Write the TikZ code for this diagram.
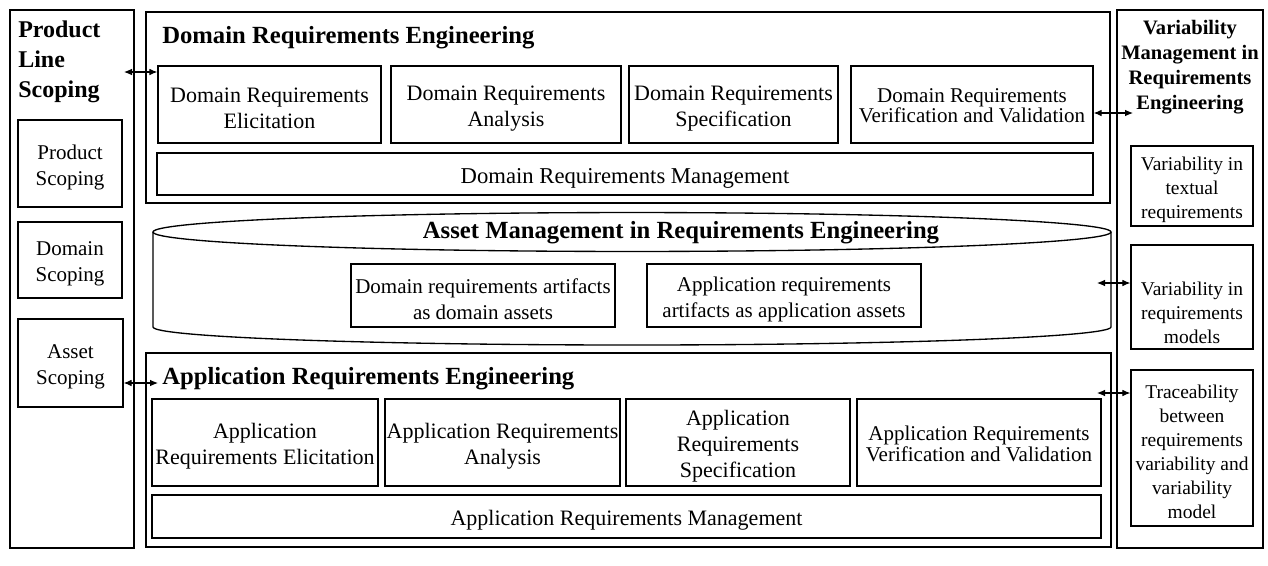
\documentclass[tikz,border=0pt]{standalone}
\usepackage{fontspec}
\setmainfont{Liberation Serif}
\usetikzlibrary{fit,arrows.meta}
\begin{document}
\begin{tikzpicture}[x=0.75pt,y=-0.75pt,
  frame/.style={draw, line width=1pt, inner sep=0pt},
  txt/.style={inner sep=0pt, align=center, yshift=-3pt, font=\fontsize{16.5}{19.5}\selectfont},
  vvtxt/.style={txt, yshift=2pt, font=\fontsize{15.75}{15.5}\selectfont},
  cyltxt/.style={txt, font=\fontsize{15.75}{19.5}\selectfont},
  sidetxt/.style={txt, font=\fontsize{15.75}{19.5}\selectfont},
  vartxt/.style={txt, font=\fontsize{14.6}{18}\selectfont},
  heading/.style={inner sep=0pt, font=\bfseries\fontsize{18.5}{22.5}\selectfont},
  link/.style={{Latex[length=6pt,width=5pt]}-{Latex[length=6pt,width=5pt]}, line width=0.8pt},
]
\fill[white] (0,0) rectangle (1268,565);
\useasboundingbox (0,0) rectangle (1268,565);

% ---------- Product line scoping ----------
\node[frame, fit={(10,10) (134,548)}] (pls) {};
\node[heading, font=\bfseries\fontsize{18}{22.5}\selectfont, anchor=west, align=left] (plsT) at (18,62) {Product\\Line\\Scoping};
\node[frame, fit={(18,120) (122,207)}, label={[sidetxt]center:{Product\\Scoping}}] (ps) {};
\node[frame, fit={(18,222) (122,298)}, label={[sidetxt]center:{Domain\\Scoping}}] (ds) {};
\node[frame, fit={(18,319) (123,407)}, label={[sidetxt]center:{Asset\\Scoping}}] (as) {};

% ---------- Domain requirements engineering ----------
\node[frame, fit={(146,12) (1110,203)}] (dre) {};
\node[heading, anchor=west] (dreT) at (162,38) {Domain Requirements Engineering};
\node[frame, fit={(158,66) (381,143)}, label={[txt]center:{Domain Requirements\\Elicitation}}] (de) {};
\node[frame, fit={(391,66) (621,143)}, label={[txt]center:{Domain Requirements\\Analysis}}] (da) {};
\node[frame, fit={(629,66) (838,143)}, label={[txt]center:{Domain Requirements\\Specification}}] (dsp) {};
\node[frame, fit={(851,66) (1093,143)}, label={[vvtxt]center:{Domain Requirements\\Verification and Validation}}] (dvv) {};
\node[frame, fit={(157,153) (1093,195)}, label={[txt, font=\fontsize{17}{19.5}\selectfont]center:{Domain Requirements Management}}] (dm) {};

% ---------- Asset management (cylinder) ----------
\node[inner sep=0pt, fit={(153,213) (1111,345)}] (cyl) {};
\draw[line width=1pt] (1111,232) -- (1111,327)
  arc[start angle=0, end angle=-180, x radius=359.25pt, y radius=13.5pt] -- (153,232);
\draw[line width=1pt] (632,232) ellipse[x radius=359.25pt, y radius=14.6pt];
\node[heading] (amT) at (681,233) {Asset Management in Requirements Engineering};
\node[frame, fit={(351,264) (615,327)}, label={[cyltxt]center:{Domain requirements artifacts\\as domain assets}}] (dass) {};
\node[frame, fit={(647,264) (921,327)}, label={[cyltxt]center:{Application requirements\\artifacts as application assets}}] (aass) {};

% ---------- Application requirements engineering ----------
\node[frame, fit={(146,353) (1111,547)}] (are) {};
\node[heading, anchor=west] (areT) at (162,379) {Application Requirements Engineering};
\node[frame, fit={(152,399) (378,486)}, label={[txt]center:{Application\\Requirements Elicitation}}] (ae) {};
\node[frame, fit={(385,399) (620,486)}, label={[txt]center:{Application Requirements\\Analysis}}] (aa) {};
\node[frame, fit={(626,399) (850,486)}, label={[txt]center:{Application\\Requirements\\Specification}}] (asp) {};
\node[frame, fit={(857,399) (1101,486)}, label={[vvtxt]center:{Application Requirements\\Verification and Validation}}] (avv) {};
\node[frame, fit={(152,495) (1101,538)}, label={[txt]center:{Application Requirements Management}}] (am) {};

% ---------- Variability management ----------
\node[frame, fit={(1117,10) (1263,548)}] (vm) {};
\node[heading, align=center, font=\bfseries\fontsize{15.4}{18.75}\selectfont] (vmT) at (1190,67)
  {Variability\\Management in\\Requirements\\Engineering};
\node[frame, fit={(1131,146) (1253,226)}, label={[vartxt]center:{Variability in\\textual\\requirements}}] (v1) {};
\node[frame, fit={(1131,245) (1253,349)}] (v2) {};
\node[vartxt] (v2t) at (1192,309) {Variability in\\requirements\\models};
\node[frame, fit={(1131,370) (1253,526)}, label={[vartxt]center:{Traceability\\between\\requirements\\variability and\\variability\\model}}] (v3) {};

% ---------- Connectors ----------
\coordinate (p1) at (124,72);
\draw[link] (p1) -- (p1 -| de.west);
\coordinate (p2) at (158,383);
\draw[link] (as.east |- p2) -- (p2);
\coordinate (p3) at (1133,113);
\draw[link] (dvv.east |- p3) -- (p3);
\coordinate (p4) at (1097,283);
\draw[link] (p4) -- (p4 -| v2.west);
\coordinate (p5) at (1097,393);
\draw[link] (p5) -- (p5 -| v3.west);
\end{tikzpicture}
\end{document}
